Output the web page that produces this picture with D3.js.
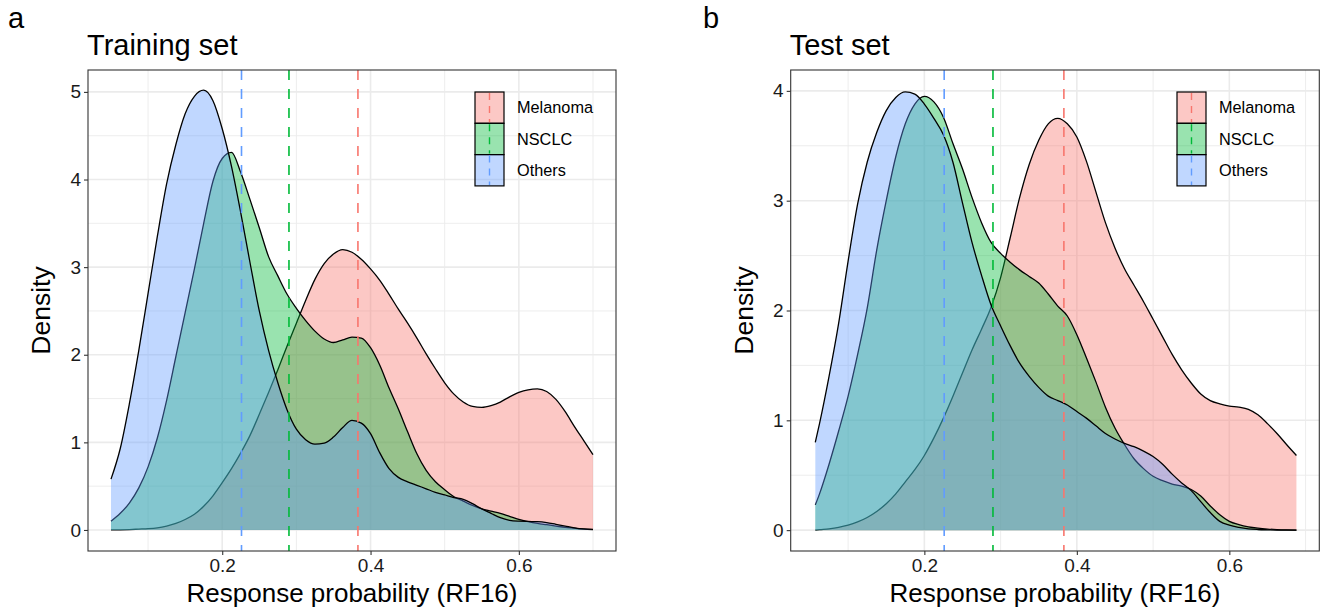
<!DOCTYPE html>
<html>
<head>
<meta charset="utf-8">
<script src="https://cdn.jsdelivr.net/npm/d3@7"></script>
<style>
  html, body { margin: 0; padding: 0; background: #fff; }
  svg { display: block; font-family: "Liberation Sans", Arial, sans-serif; }
</style>
</head>
<body>
<svg id="chart" width="1328" height="612"></svg>
<script>
const groups = ["Melanoma", "NSCLC", "Others"];
const hues = { Melanoma: "#F8766D", NSCLC: "#00BA38", Others: "#619CFF" };

// dashed reference lines (one per group, same order as groups)
const trainCutoffs = [0.383, 0.29, 0.226];
const testCutoffs = [0.383, 0.29, 0.226];

const xTicks = [0.2, 0.4, 0.6];
const xMinor = [0.1, 0.3, 0.5, 0.7];
const trainYTicks = [0, 1, 2, 3, 4, 5];
const trainYMinor = [0.5, 1.5, 2.5, 3.5, 4.5];
const testYTicks = [0, 1, 2, 3, 4];
const testYMinor = [0.5, 1.5, 2.5, 3.5];

// training set densities
const trainX = [
  0.05, 0.0625, 0.075, 0.0875, 0.1, 0.1125, 0.125, 0.1375, 0.15, 0.1625,
  0.175, 0.1875, 0.2, 0.2125, 0.225, 0.2375, 0.25, 0.2625, 0.275, 0.2875,
  0.3, 0.3125, 0.325, 0.3375, 0.35, 0.3625, 0.375, 0.3875, 0.4, 0.4125,
  0.425, 0.4375, 0.45, 0.4625, 0.475, 0.4875, 0.5, 0.5125, 0.525, 0.5375,
  0.55, 0.5625, 0.575, 0.5875, 0.6, 0.6125, 0.625, 0.6375, 0.65, 0.6625,
  0.675, 0.6875, 0.7];
const trainMelanoma = [
  0, 0.002, 0.005, 0.01, 0.015, 0.025, 0.045, 0.075, 0.12, 0.18,
  0.27, 0.39, 0.54, 0.7, 0.88, 1.08, 1.32, 1.57, 1.83, 2.1,
  2.36, 2.62, 2.86, 3.04, 3.15, 3.2, 3.17, 3.09, 2.98, 2.85,
  2.69, 2.52, 2.36, 2.19, 2.01, 1.84, 1.68, 1.55, 1.46, 1.41,
  1.4, 1.42, 1.46, 1.52, 1.57, 1.6, 1.61, 1.58, 1.49, 1.35,
  1.18, 1.02, 0.86];
const trainNSCLC = [
  0.1, 0.19, 0.31, 0.48, 0.72, 1.05, 1.48, 1.98, 2.48, 2.98,
  3.5, 3.98, 4.24, 4.31, 4.08, 3.77, 3.45, 3.12, 2.9, 2.69,
  2.53, 2.39, 2.27, 2.18, 2.14, 2.17, 2.2, 2.19, 2.08, 1.88,
  1.62, 1.38, 1.12, 0.87, 0.68, 0.55, 0.46, 0.38, 0.33, 0.28,
  0.24, 0.215, 0.19, 0.155, 0.12, 0.095, 0.075, 0.06, 0.045, 0.03,
  0.02, 0.01, 0.005];
const trainOthers = [
  0.58, 0.93, 1.45, 2.05, 2.7, 3.35, 3.95, 4.4, 4.75, 4.95,
  5.02, 4.9, 4.58, 4.15, 3.62, 3.05, 2.5, 2.05, 1.68, 1.37,
  1.15, 1.03, 0.98, 0.99, 1.06, 1.17, 1.25, 1.22, 1.1, 0.88,
  0.7, 0.6, 0.55, 0.51, 0.47, 0.43, 0.4, 0.37, 0.35, 0.3,
  0.24, 0.19, 0.14, 0.11, 0.1, 0.097, 0.095, 0.085, 0.065, 0.045,
  0.025, 0.012, 0.006];

// test set densities
const testX = [
  0.057, 0.0625, 0.075, 0.0875, 0.1, 0.1125, 0.125, 0.1375, 0.15, 0.1625,
  0.175, 0.1875, 0.2, 0.2125, 0.225, 0.2375, 0.25, 0.2625, 0.275, 0.2875,
  0.3, 0.3125, 0.325, 0.3375, 0.35, 0.3625, 0.375, 0.3875, 0.4, 0.4125,
  0.425, 0.4375, 0.45, 0.4625, 0.475, 0.4875, 0.5, 0.5125, 0.525, 0.5375,
  0.55, 0.5625, 0.575, 0.5875, 0.6, 0.6125, 0.625, 0.6375, 0.65, 0.6625,
  0.675, 0.688];
const testMelanoma = [
  0, 0.004, 0.012, 0.025, 0.045, 0.075, 0.115, 0.17, 0.24, 0.33,
  0.44, 0.55, 0.68, 0.84, 1.02, 1.22, 1.43, 1.64, 1.83, 2.03,
  2.3, 2.66, 3.03, 3.33, 3.55, 3.7, 3.75, 3.7, 3.58, 3.36,
  3.08, 2.8, 2.57, 2.38, 2.23, 2.08, 1.92, 1.76, 1.6, 1.46,
  1.34, 1.24, 1.18, 1.15, 1.13, 1.12, 1.1, 1.05, 0.97, 0.88,
  0.78, 0.68];
const testNSCLC = [
  0.23, 0.33, 0.6, 0.9, 1.22, 1.6, 2.02, 2.55, 3.0, 3.4,
  3.7, 3.88, 3.95, 3.9, 3.76, 3.52, 3.29, 3.03, 2.8, 2.62,
  2.52, 2.44, 2.37, 2.31, 2.25, 2.15, 2.04, 1.95, 1.78, 1.57,
  1.35, 1.12, 0.93, 0.78, 0.65, 0.56, 0.49, 0.45, 0.42, 0.4,
  0.37, 0.31, 0.22, 0.14, 0.08, 0.05, 0.03, 0.018, 0.01, 0.005,
  0.002, 0];
const testOthers = [
  0.8, 0.97, 1.4, 1.88, 2.45, 2.97, 3.35, 3.62, 3.82, 3.94,
  3.99, 3.97, 3.88, 3.75, 3.6, 3.35, 2.98, 2.62, 2.32, 2.05,
  1.86, 1.68, 1.52, 1.4, 1.3, 1.22, 1.18, 1.14, 1.08, 1.02,
  0.95, 0.88, 0.83, 0.79, 0.76, 0.72, 0.67, 0.6, 0.51, 0.43,
  0.36, 0.26, 0.16, 0.08, 0.045, 0.025, 0.012, 0.006, 0.003, 0.001,
  0, 0];

const svg = d3.select("#chart");
const dash = "10,9";

function drawPanel(p) {
  const g = svg.append("g");
  const x = d3.scaleLinear().domain(p.xDomain).range([p.left, p.right]);
  const y = d3.scaleLinear().domain(p.yDomain).range([p.bottom, p.top]);

  // grid, minor then major
  g.selectAll("line.gx-minor").data(xMinor).enter().append("line")
    .attr("x1", d => x(d)).attr("x2", d => x(d))
    .attr("y1", p.top).attr("y2", p.bottom)
    .attr("stroke", "#EBEBEB").attr("stroke-width", 0.9);
  g.selectAll("line.gy-minor").data(p.yMinor).enter().append("line")
    .attr("y1", d => y(d)).attr("y2", d => y(d))
    .attr("x1", p.left).attr("x2", p.right)
    .attr("stroke", "#EBEBEB").attr("stroke-width", 0.9);
  g.selectAll("line.gx").data(xTicks).enter().append("line")
    .attr("x1", d => x(d)).attr("x2", d => x(d))
    .attr("y1", p.top).attr("y2", p.bottom)
    .attr("stroke", "#EBEBEB").attr("stroke-width", 1.6);
  g.selectAll("line.gy").data(p.yTicks).enter().append("line")
    .attr("y1", d => y(d)).attr("y2", d => y(d))
    .attr("x1", p.left).attr("x2", p.right)
    .attr("stroke", "#EBEBEB").attr("stroke-width", 1.6);

  // densities: Melanoma first, Others on top
  const area = d3.area()
    .x(d => x(d[0])).y0(y(0)).y1(d => y(d[1]))
    .curve(d3.curveMonotoneX);
  const line = d3.line()
    .x(d => x(d[0])).y(d => y(d[1]))
    .curve(d3.curveMonotoneX);

  groups.forEach((name, k) => {
    const pts = p.xs.map((v, i) => [v, p.dens[k][i]]);
    g.append("path")
      .attr("d", area(pts))
      .attr("fill", hues[name])
      .attr("fill-opacity", 0.4);
    g.append("path")
      .attr("d", line(pts))
      .attr("fill", "none")
      .attr("stroke", "#000")
      .attr("stroke-width", 1.3);
  });

  // dashed lines
  g.selectAll("line.cut").data(p.cutoffs).enter().append("line")
    .attr("x1", d => x(d)).attr("x2", d => x(d))
    .attr("y1", p.top).attr("y2", p.bottom)
    .attr("stroke", (d, i) => hues[groups[i]])
    .attr("stroke-width", 1.6)
    .attr("stroke-dasharray", dash);

  // border
  g.append("rect")
    .attr("x", p.left).attr("y", p.top)
    .attr("width", p.right - p.left).attr("height", p.bottom - p.top)
    .attr("fill", "none").attr("stroke", "#333").attr("stroke-width", 1.1);

  // axes
  const xAxis = g.append("g")
    .attr("transform", `translate(0,${p.bottom})`)
    .call(d3.axisBottom(x).tickValues(xTicks).tickSize(4).tickPadding(4)
      .tickFormat(d => d.toFixed(1)));
  const yAxis = g.append("g")
    .attr("transform", `translate(${p.left},0)`)
    .call(d3.axisLeft(y).tickValues(p.yTicks).tickSize(4).tickPadding(3)
      .tickFormat(d3.format("d")));
  [xAxis, yAxis].forEach(a => {
    a.select(".domain").remove();
    a.selectAll(".tick line").attr("stroke", "#333").attr("stroke-width", 1.1);
    a.selectAll(".tick text")
      .attr("fill", "#1a1a1a")
      .style("font-size", "19px")
      .style("font-family", "Liberation Sans, Arial, sans-serif");
  });

  // titles
  g.append("text")
    .attr("x", p.left - 1).attr("y", 55)
    .attr("font-size", 29).attr("fill", "#000")
    .text(p.title);
  g.append("text")
    .attr("x", p.tagX).attr("y", 28)
    .attr("font-size", 29).attr("fill", "#000")
    .text(p.tag);
  g.append("text")
    .attr("x", (p.left + p.right) / 2).attr("y", 602)
    .attr("text-anchor", "middle")
    .attr("font-size", 26).attr("fill", "#000")
    .text("Response probability (RF16)");
  g.append("text")
    .attr("transform", `translate(${p.left - 38},${(p.top + p.bottom) / 2}) rotate(-90)`)
    .attr("text-anchor", "middle")
    .attr("font-size", 26.5).attr("fill", "#000")
    .text("Density");

  // legend
  const keyW = 29, keyH = 31.3;
  const leg = g.append("g").attr("transform", `translate(${p.legendX},92)`);
  const items = leg.selectAll("g.item").data(groups).enter().append("g")
    .attr("transform", (d, i) => `translate(0,${i * keyH})`);
  items.append("rect")
    .attr("width", keyW).attr("height", keyH)
    .attr("fill", d => hues[d]).attr("fill-opacity", 0.4)
    .attr("stroke", "#000").attr("stroke-width", 1.2);
  items.append("line")
    .attr("x1", keyW / 2).attr("x2", keyW / 2)
    .attr("y1", 1).attr("y2", keyH - 1)
    .attr("stroke", d => hues[d]).attr("stroke-width", 1.4)
    .attr("stroke-dasharray", "7,6");
  items.append("text")
    .attr("x", keyW + 13).attr("y", keyH / 2).attr("dy", "0.35em")
    .attr("font-size", 16.3).attr("fill", "#000")
    .text(d => d);
}

drawPanel({
  title: "Training set", tag: "a", tagX: 8,
  left: 88, right: 616, top: 70, bottom: 551,
  xDomain: [0.019, 0.731], yDomain: [-0.24, 5.25],
  yTicks: trainYTicks, yMinor: trainYMinor,
  xs: trainX, dens: [trainMelanoma, trainNSCLC, trainOthers],
  cutoffs: trainCutoffs, legendX: 475
});

drawPanel({
  title: "Test set", tag: "b", tagX: 703,
  left: 790.7, right: 1319.3, top: 70, bottom: 551,
  xDomain: [0.0247, 0.718], yDomain: [-0.19, 4.19],
  yTicks: testYTicks, yMinor: testYMinor,
  xs: testX, dens: [testMelanoma, testNSCLC, testOthers],
  cutoffs: testCutoffs, legendX: 1177
});
</script>
</body>
</html>
